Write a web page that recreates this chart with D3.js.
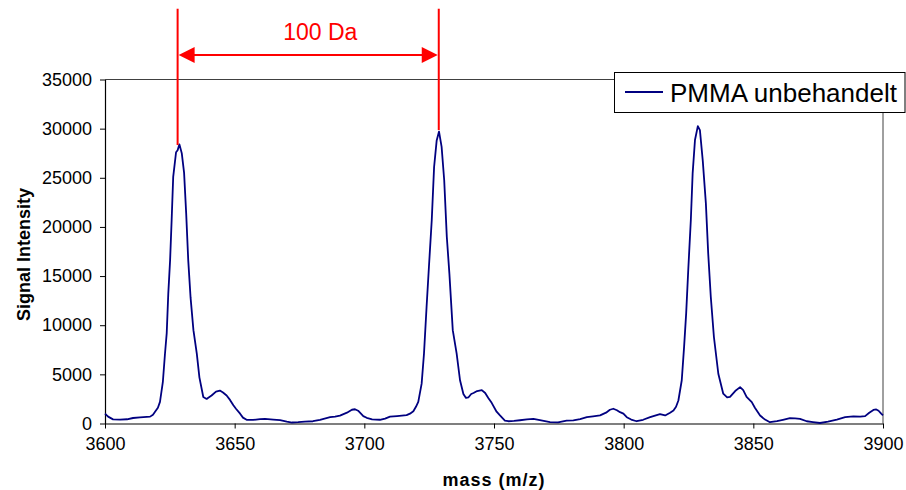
<!DOCTYPE html>
<html>
<head>
<meta charset="utf-8">
<script src="https://cdn.jsdelivr.net/npm/d3@7/dist/d3.min.js"></script>
<style>
  html, body { margin: 0; padding: 0; background: #ffffff; }
  svg { display: block; font-family: "Liberation Sans", Arial, sans-serif; }
</style>
</head>
<body>
<svg id="chart" width="906" height="490"></svg>
<script>
// ---- data ----
const mass = [
  3600.0,3601.2,3603.1,3605.8,3608.5,3610.8,3613.5,3617.4,3618.5,3619.3,3620.4,3621.2,3622.3,3623.1,3623.8,3624.4,
  3625.1,3625.7,3626.3,3627.4,3628.0,3628.7,3629.6,3630.5,3631.3,3632.1,3633.0,3634.1,3635.4,3636.4,3637.9,3639.2,
  3639.7,3641.1,3642.8,3644.3,3645.5,3646.9,3648.2,3649.5,3650.5,3652.1,3653.2,3654.6,3657.1,3659.8,3661.7,3664.9,
  3667.5,3670.1,3672.1,3674.5,3677.1,3680.2,3682.9,3686.8,3688.7,3690.6,3693.3,3695.2,3696.4,3697.6,3698.7,3699.6,
  3700.9,3703.0,3706.0,3708.0,3709.9,3712.6,3716.3,3717.6,3718.9,3719.9,3720.8,3722.1,3723.0,3724.0,3724.9,3726.0,
  3726.9,3727.9,3728.8,3729.8,3730.8,3731.8,3732.8,3734.1,3735.6,3736.9,3738.2,3739.2,3740.1,3741.2,3742.1,3743.5,
  3745.3,3746.6,3747.8,3749.1,3751.0,3752.3,3754.2,3755.5,3757.7,3760.0,3762.7,3765.2,3767.7,3771.6,3774.7,3778.0,
  3780.6,3783.2,3785.8,3788.2,3790.9,3793.2,3794.7,3796.0,3797.4,3798.6,3799.9,3801.2,3802.9,3805.0,3807.5,3810.2,
  3812.1,3814.0,3816.0,3817.9,3819.2,3820.2,3821.1,3822.4,3823.3,3824.1,3824.9,3825.9,3826.6,3827.5,3828.6,3829.4,
  3830.5,3831.7,3832.6,3833.6,3834.8,3836.5,3838.4,3839.9,3841.0,3843.0,3844.9,3846.1,3847.4,3849.4,3850.6,3852.6,
  3854.5,3856.4,3859.1,3861.4,3864.1,3866.1,3868.0,3870.6,3873.0,3875.7,3878.8,3882.2,3885.4,3888.6,3891.2,3893.1,
  3894.7,3896.3,3897.4,3898.3,3899.3,3900.0
];
const intensity = [
  1000,700,420,400,430,560,620,700,900,1200,1600,2200,4200,7000,9200,13200,
  16600,20700,25100,27600,27800,28400,27500,25500,21400,16600,12800,9500,7100,4700,2700,2500,
  2600,2850,3250,3350,3150,2850,2400,1850,1500,1000,600,380,360,440,480,400,
  350,200,100,130,200,230,380,640,700,800,1100,1400,1450,1300,1000,750,
  580,430,380,500,700,760,850,1000,1250,1700,2200,4050,7100,11850,15900,20700,
  26100,28800,29700,28150,24750,19000,15250,9500,7100,4400,3000,2600,2650,3000,3100,3300,
  3400,3100,2600,2100,1200,820,300,230,260,330,420,480,350,140,120,300,
  320,450,640,720,820,1100,1400,1500,1350,1150,1000,640,400,230,380,640,
  800,950,820,1100,1320,1700,2340,4400,7800,11200,15600,20700,25450,28850,30250,29850,
  26750,22400,17300,12870,8800,5060,3030,2650,2700,3300,3700,3400,2700,2170,1600,820,
  400,130,250,380,540,520,480,230,150,50,200,400,640,720,700,750,
  1100,1380,1430,1300,1000,820
];
const seriesName = "PMMA unbehandelt";
const xTicks = [3600, 3650, 3700, 3750, 3800, 3850, 3900];
const yTicks = [0, 5000, 10000, 15000, 20000, 25000, 30000, 35000];
const xTitle = "mass (m/z)";
const yTitle = "Signal Intensity";
// annotation: two marked peaks and their spacing
const markMass = [3628.0, 3728.7];
const markPeak = [28330, 29850];
const markTop = 42200;
const markArrow = 37500;
const markLabel = "100 Da";
const markLabelMass = 3683;
const markLabelLevel = 39000;

// ---- layout ----
const svg = d3.select("#chart");
const L = 105, R = 883, T = 79.5, B = 423.5;
const x = d3.scaleLinear().domain([3600, 3900]).range([L, R]);
const y = d3.scaleLinear().domain([0, 35000]).range([B, T]);

svg.append("rect").attr("width", 906).attr("height", 490).attr("fill", "#fff");

// plot frame (top & right)
svg.append("path")
  .attr("d", `M${L},${T}H${R}V${B}`)
  .attr("fill", "none").attr("stroke", "#404040").attr("stroke-width", 1);

// axes
const xAxis = svg.append("g").attr("transform", `translate(0,${B})`)
  .call(d3.axisBottom(x).tickValues(xTicks).tickFormat(d3.format("d")).tickSizeOuter(0).tickSizeInner(5).tickPadding(9));
const yAxis = svg.append("g").attr("transform", `translate(${L},0)`)
  .call(d3.axisLeft(y).tickValues(yTicks).tickFormat(d3.format("d")).tickSizeOuter(0).tickSizeInner(5).tickPadding(8));
[xAxis, yAxis].forEach(g => {
  g.select(".domain").attr("stroke", "#000").attr("stroke-width", 1.2);
  g.selectAll(".tick line").attr("stroke", "#000");
  g.selectAll("text").attr("fill", "#000").style("font-size", "18px")
    .style("font-family", "'Liberation Sans', Arial, sans-serif");
});

// axis titles
svg.append("text").attr("x", (L + R) / 2).attr("y", 486).attr("text-anchor", "middle")
  .style("font-size", "18px").style("font-weight", "bold").style("letter-spacing", "1px").text(xTitle);
svg.append("text").attr("transform", `translate(30,${(T + B) / 2 + 3}) rotate(-90)`)
  .attr("text-anchor", "middle")
  .style("font-size", "18px").style("font-weight", "bold").text(yTitle);

// spectrum
const data = mass.map((m, i) => [m, intensity[i]]);
svg.append("path").datum(data)
  .attr("fill", "none").attr("stroke", "#000080").attr("stroke-width", 1.8)
  .attr("stroke-linejoin", "round")
  .attr("d", d3.line().x(d => x(d[0])).y(d => y(d[1])));

// legend
const lg = svg.append("g");
lg.append("rect").attr("x", 614.5).attr("y", 72.5).attr("width", 290.5).attr("height", 40)
  .attr("fill", "#fff").attr("stroke", "#000").attr("stroke-width", 1);
lg.append("line").attr("x1", 625).attr("x2", 663).attr("y1", 92).attr("y2", 92)
  .attr("stroke", "#000080").attr("stroke-width", 1.8);
lg.append("text").attr("x", 670).attr("y", 101.5).style("font-size", "26px")
  .attr("fill", "#000").text(seriesName);

// annotation
const red = "#ff0000";
markMass.forEach((m, i) => {
  svg.append("line").attr("x1", x(m)).attr("x2", x(m))
    .attr("y1", y(markTop)).attr("y2", y(markPeak[i]))
    .attr("stroke", red).attr("stroke-width", 2);
});
const ax1 = x(markMass[0]) + 1, ax2 = x(markMass[1]) - 1, ay = y(markArrow);
const ah = 16, aw = 8;
svg.append("line").attr("x1", ax1 + ah - 2).attr("x2", ax2 - ah + 2).attr("y1", ay).attr("y2", ay)
  .attr("stroke", red).attr("stroke-width", 2);
svg.append("path").attr("d", `M${ax1},${ay}L${ax1 + ah},${ay - aw}L${ax1 + ah},${ay + aw}Z`).attr("fill", red);
svg.append("path").attr("d", `M${ax2},${ay}L${ax2 - ah},${ay - aw}L${ax2 - ah},${ay + aw}Z`).attr("fill", red);
svg.append("text").attr("x", x(markLabelMass)).attr("y", y(markLabelLevel))
  .attr("text-anchor", "middle").attr("fill", red).style("font-size", "23px").text(markLabel);
</script>
</body>
</html>
